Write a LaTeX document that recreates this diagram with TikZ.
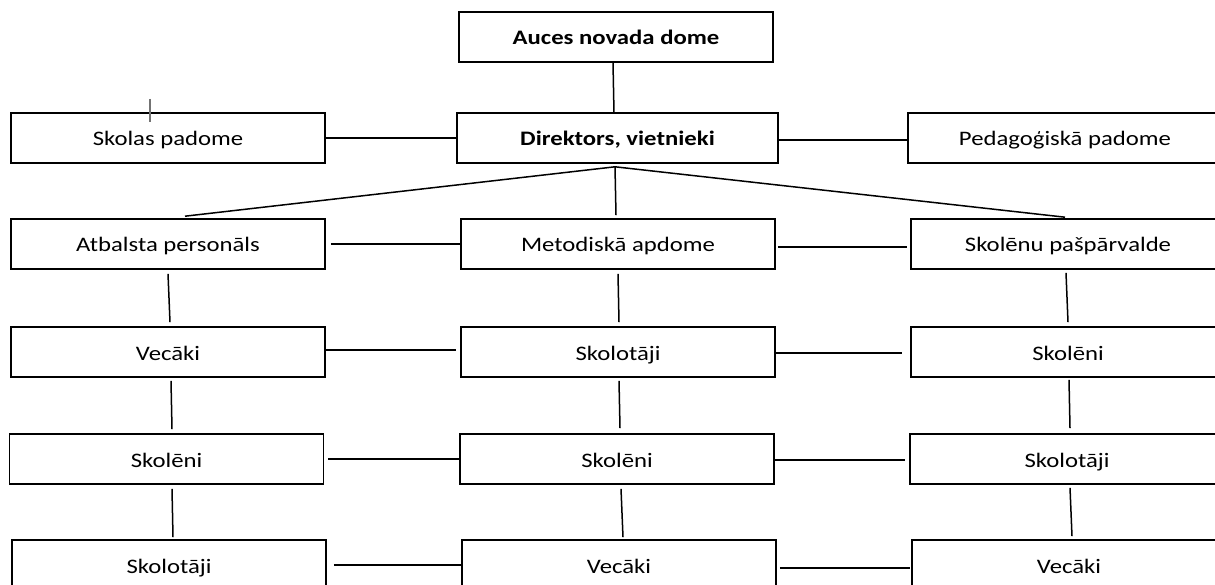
\documentclass[tikz,border=0pt]{standalone}
\usepackage{fontspec}
\setmainfont{Carlito}[FakeStretch=1.2]
\usetikzlibrary{calc}
\tikzset{
  box/.style={draw, line width=1.6pt, minimum width=314pt, minimum height=50pt, inner sep=0pt, text height=16pt, text depth=0pt, font=\fontsize{20.6}{24}\selectfont},
  bbox/.style={box, font=\fontsize{20.6}{24}\selectfont\bfseries},
  conn/.style={line width=1.5pt},
  cursor/.style={line width=1.2pt, draw=black!55}
}
\begin{document}
\begin{tikzpicture}[x=1pt,y=-1pt]
\useasboundingbox[fill=white] (0,0) rectangle (1215,585);
% row 1
\node[bbox] (auces) at (616,37) {Auces novada dome};
% row 2
\node[box] (skolas) at (168,138) {Skolas padome};
\node[bbox, minimum width=321pt] (dir) at (617.5,138) {Direktors, vietnieki};
\node[box] (ped) at (1065,138) {Pedagoģiskā padome};
% row 3
\node[box] (atb) at (168,244) {Atbalsta personāls};
\node[box] (met) at (618,244) {Metodiskā apdome};
\node[box] (sp) at (1068,244) {Skolēnu pašpārvalde};
% row 4
\node[box] (vec1) at (168,352) {Vecāki};
\node[box] (sko1) at (618,352) {Skolotāji};
\node[box] (skn1) at (1068,352) {Skolēni};
% row 5
\node[box] (skn2) at (166.5,459) {Skolēni};
\node[box] (skn3) at (617,459) {Skolēni};
\node[box] (sko2) at (1067,459) {Skolotāji};
% row 6
\node[box] (sko3) at (169,565) {Skolotāji};
\node[box] (vec2) at (619,565) {Vecāki};
\node[box] (vec3) at (1069,565) {Vecāki};
% cursor mark
\coordinate (c1) at (150,99);
\coordinate (c2) at (150,122);
\draw[cursor] (c1) -- (c2);
% connectors
\draw[conn] ([shift={(-3,0)}]auces.south) -- ([shift={(-3.5,1)}]dir.north);
\draw[conn] (skolas.east) -- (dir.west);
\draw[conn] ([shift={(0,2)}]dir.east) -- ([shift={(0,2)}]ped.west);
\coordinate (apex) at ([shift={(-2.5,3)}]dir.south);
\draw[conn] (apex) -- ([shift={(17,-2)}]atb.north);
\draw[conn] (apex) -- ([shift={(-2,-3)}]met.north);
\draw[conn] (apex) -- ([shift={(-3,-1)}]sp.north);
% row 3 horizontals
\draw[conn] ([shift={(5,0)}]atb.east) -- (met.west);
\draw[conn] ([shift={(2,3)}]met.east) -- ([shift={(-3,3)}]sp.west);
% row 3-4 verticals
\draw[conn] ([shift={(0,4)}]atb.south) -- ([shift={(2,-4)}]vec1.north);
\draw[conn] ([shift={(0,4)}]met.south) -- ([shift={(1,-4)}]sko1.north);
\draw[conn] ([shift={(-2,3)}]sp.south) -- ([shift={(0,-4)}]skn1.north);
% row 4 horizontals
\draw[conn] ([shift={(0,-2)}]vec1.east) -- ([shift={(-4,-2)}]sko1.west);
\draw[conn] ([shift={(-2,1)}]sko1.east) -- ([shift={(-8,1)}]skn1.west);
% row 4-5 verticals
\draw[conn] ([shift={(3,3)}]vec1.south) -- ([shift={(5.5,-4)}]skn2.north);
\draw[conn] ([shift={(1,3)}]sko1.south) -- ([shift={(3,-5)}]skn3.north);
\draw[conn] ([shift={(1,2)}]skn1.south) -- ([shift={(3,-5)}]sko2.north);
% row 5 horizontals
\draw[conn] ([shift={(4,0)}]skn2.east) -- (skn3.west);
\draw[conn] ([shift={(0,1)}]skn3.east) -- ([shift={(-4,1)}]sko2.west);
% row 5-6 verticals
\draw[conn] ([shift={(5.5,4)}]skn2.south) -- ([shift={(4,-2)}]sko3.north);
\draw[conn] ([shift={(4,4)}]skn3.south) -- ([shift={(4,-2)}]vec2.north);
\draw[conn] ([shift={(3,3)}]sko2.south) -- ([shift={(3,-3)}]vec3.north);
% row 6 horizontals
\draw[conn] ([shift={(7,0)}]sko3.east) -- (vec2.west);
\draw[conn] ([shift={(3,3)}]vec2.east) -- ([shift={(-1,3)}]vec3.west);
\end{tikzpicture}
\end{document}
